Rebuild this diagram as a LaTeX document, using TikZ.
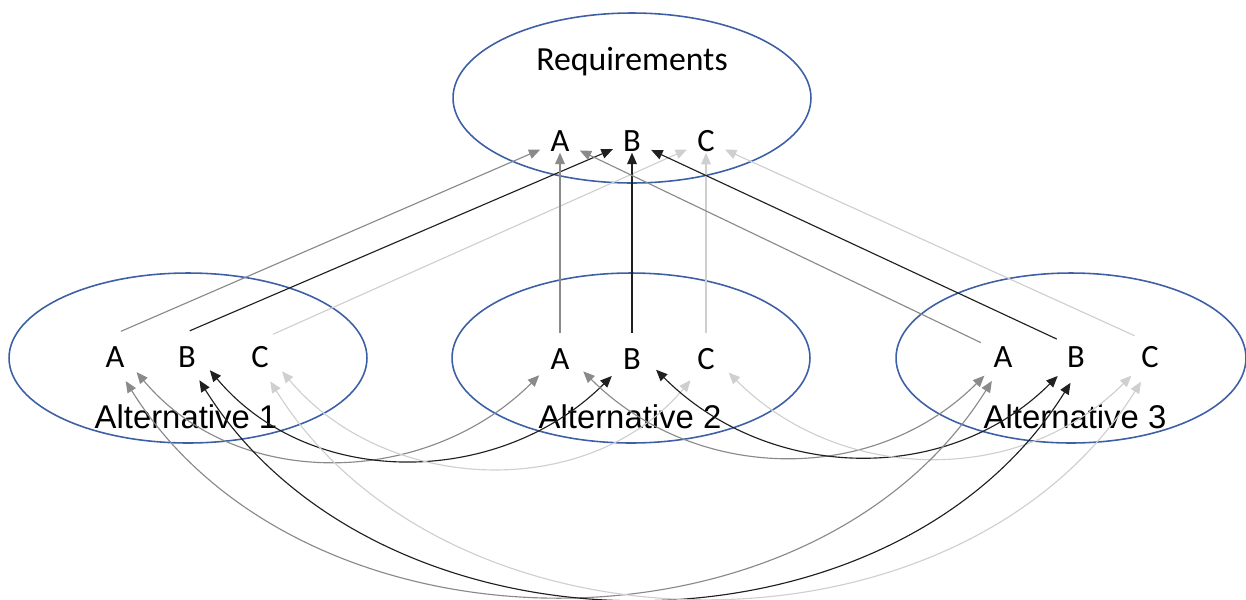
\documentclass[tikz,border=0pt]{standalone}
\usepackage{fontspec}
\setmainfont{Carlito}
\newfontfamily\arialfont{Liberation Sans}
\usetikzlibrary{shapes.geometric,arrows.meta}

\definecolor{ringblue}{HTML}{3D5FA6}
\definecolor{grayA}{HTML}{8A8A8A}
\definecolor{grayB}{HTML}{202020}
\definecolor{grayC}{HTML}{CFCFCF}

\begin{document}
\begin{tikzpicture}[x=0.02cm,y=-0.02cm,
  >={Triangle[length=6.5pt,width=5.5pt]},
  ring/.style={draw=ringblue,line width=0.9pt,ellipse,inner sep=0pt,minimum width=7.16cm,minimum height=3.4cm},
  letter/.style={circle,inner sep=0pt,minimum size=1.04cm,font=\fontsize{18.5}{20}\selectfont},
  target/.style={rectangle,inner xsep=0.2cm,inner ysep=0.5pt,font=\fontsize{18.5}{20}\selectfont},
  caption/.style={inner sep=0pt,font=\arialfont\fontsize{18.7}{22}\selectfont},
  linkA/.style={draw=grayA,line width=0.65pt},
  linkB/.style={draw=grayB,line width=0.65pt},
  linkC/.style={draw=grayC,line width=0.65pt}]
\useasboundingbox (0,0) rectangle (1246,599);
% groups
\node[ring] (req) at (632,98) {};
\node[ring] (alt1) at (188,358) {};
\node[ring] (alt2) at (631,358) {};
\node[ring,minimum width=7cm] (alt3) at (1071,358) {};
\node[anchor=base,inner sep=0pt,font=\fontsize{19.2}{22}\selectfont] (req-label) at (632,70) {Requirements};
\node[caption] (alt1-label) at (186,417) {Alternative 1};
\node[caption] (alt2-label) at (630,417) {Alternative 2};
\node[caption] (alt3-label) at (1075,417) {Alternative 3};
% letters
\node[target] (req-A) at (560,141) {A};
\node[target] (req-B) at (632,141) {B};
\node[target] (req-C) at (706,141) {C};
\node[letter] (alt1-A) at (115,357) {A};
\node[letter] (alt1-B) at (187,357) {B};
\node[letter] (alt1-C) at (260,357) {C};
\node[letter] (alt2-A) at (560,359) {A};
\node[letter] (alt2-B) at (632,359) {B};
\node[letter] (alt2-C) at (706,359) {C};
\node[letter] (alt3-A) at (1003,357) {A};
\node[letter] (alt3-B) at (1076,357) {B};
\node[letter] (alt3-C) at (1150,357) {C};
% alternatives to requirements
\draw[linkA,->] (alt1-A.77) -- (req-A);
\draw[linkB,->] (alt1-B.84) -- (req-B);
\draw[linkC,->] (alt1-C.60) -- (req-C);
\draw[linkA,->] (alt2-A.90) -- (req-A);
\draw[linkB,->] (alt2-B.90) -- (req-B);
\draw[linkC,->] (alt2-C.90) -- (req-C);
\draw[linkA,->] (alt3-A.147) -- (req-A);
\draw[linkB,->] (alt3-B.137) -- (req-B);
\draw[linkC,->] (alt3-C.126) -- (req-C);
% alternative 1 -- alternative 2
\draw[linkA,<->] (alt1-A.-35) to[out=-50,in=-135] (alt2-A.-142);
\draw[linkB,<->] (alt1-B.-30) to[out=-50,in=-135] (alt2-B.-140);
\draw[linkC,<->] (alt1-C.-33) to[out=-50,in=-130] (alt2-C.-126);
% alternative 2 -- alternative 3
\draw[linkA,<->] (alt2-A.-28) to[out=-45,in=-135] (alt3-A.-135);
\draw[linkB,<->] (alt2-B.-24) to[out=-45,in=-135] (alt3-B.-134);
\draw[linkC,<->] (alt2-C.-31) to[out=-45,in=-135] (alt3-C.-135);
% alternative 1 -- alternative 3
\draw[linkA,<->] (alt1-A.-66) to[out=-58,in=-122] (alt3-A.-115);
\draw[linkB,<->] (alt1-B.-62) to[out=-58,in=-122] (alt3-B.-102);
\draw[linkC,<->] (alt1-C.-67) to[out=-58,in=-122] (alt3-C.-110);
\end{tikzpicture}
\end{document}
